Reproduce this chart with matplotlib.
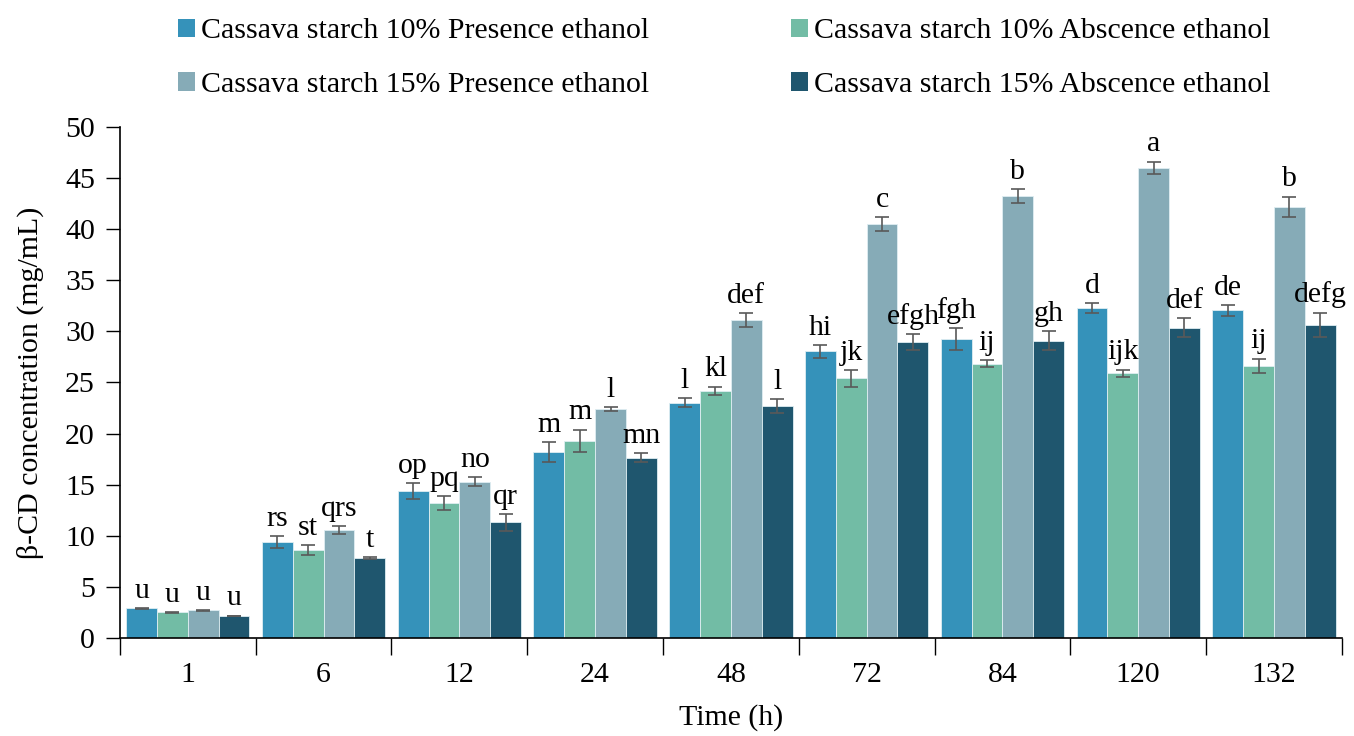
import matplotlib
matplotlib.use("Agg")
import matplotlib.pyplot as plt
import numpy as np
from matplotlib.patches import Patch

plt.rcParams['font.family'] = ['Liberation Serif', 'DejaVu Serif']

times = ["1", "6", "12", "24", "48", "72", "84", "120", "132"]
series_names = ["Cassava starch 10% Presence ethanol",
                "Cassava starch 10% Abscence ethanol",
                "Cassava starch 15% Presence ethanol",
                "Cassava starch 15% Abscence ethanol"]
colors = ["#3592BA", "#72BCA5", "#86ABB7", "#1F566E"]

p10 = [2.9, 9.36, 14.4, 18.2, 23.0, 28.05, 29.26, 32.3, 32.06]
a10 = [2.5, 8.6, 13.2, 19.3, 24.2, 25.4, 26.84, 25.9, 26.65]
p15 = [2.7, 10.57, 15.3, 22.4, 31.1, 40.5, 43.25, 46.0, 42.2]
a15 = [2.15, 7.8, 11.3, 17.65, 22.7, 28.96, 29.1, 30.36, 30.66]

e_p10 = [0.05, 0.57, 0.78, 0.95, 0.44, 0.62, 1.1, 0.46, 0.54]
e_a10 = [0.05, 0.5, 0.7, 1.1, 0.4, 0.85, 0.37, 0.37, 0.68]
e_p15 = [0.05, 0.4, 0.47, 0.18, 0.7, 0.7, 0.7, 0.62, 1.0]
e_a15 = [0.03, 0.1, 0.85, 0.45, 0.67, 0.77, 0.93, 0.93, 1.17]

l_p10 = ["u", "rs", "op", "m", "l", "hi", "fgh", "d", "de"]
l_a10 = ["u", "st", "pq", "m", "kl", "jk", "ij", "ijk", "ij"]
l_p15 = ["u", "qrs", "no", "l", "def", "c", "b", "a", "b"]
l_a15 = ["u", "t", "qr", "mn", "l", "efgh", "gh", "def", "defg"]

values = [p10, a10, p15, a15]
errors = [e_p10, e_a10, e_p15, e_a15]
letters = [l_p10, l_a10, l_p15, l_a15]

FS = 21.5

fig = plt.figure(figsize=(13.54, 7.36), dpi=100)
ax = fig.add_axes([0.0886, 0.1332, 0.9024, 0.6942])

x = np.arange(len(times))
w = 0.227
offsets = (np.arange(4) - 1.5) * w
for i in range(4):
    ax.bar(x + offsets[i], values[i], width=w, color=colors[i],
           edgecolor="#dfeef2", linewidth=0.6, zorder=2)
    ax.errorbar(x + offsets[i], values[i], yerr=errors[i], fmt='none',
                ecolor="#595959", elinewidth=1.2, capsize=5, capthick=1.2, zorder=3)
    for j in range(len(times)):
        ax.text(x[j] + offsets[i], values[i][j] + errors[i][j] + 1.0, letters[i][j],
                ha='center', va='baseline', fontsize=FS, color='black', zorder=4)

ax.set_xlim(-0.5, len(times) - 0.5)
ax.set_ylim(0, 50)
ax.set_yticks(np.arange(0, 51, 5))
ax.tick_params(axis='y', labelsize=FS, direction='out', length=10, width=1, pad=8)
ax.set_xticks(np.arange(len(times) + 1) - 0.5)
ax.set_xticklabels([])
ax.set_xticks(x, minor=True)
ax.set_xticklabels(times, minor=True, fontsize=FS)
ax.tick_params(axis='x', which='major', direction='out', length=12, width=1)
ax.tick_params(axis='x', which='minor', length=0, pad=17)
for s in ['top', 'right']:
    ax.spines[s].set_visible(False)
for s in ['left', 'bottom']:
    ax.spines[s].set_linewidth(1.2)

ax.set_ylabel("β-CD concentration (mg/mL)", fontsize=FS, labelpad=15)
ax.set_xlabel("Time (h)", fontsize=FS, labelpad=12)

handles = [Patch(facecolor=c, edgecolor='none') for c in colors]
order = [0, 2, 1, 3]
fig.legend([handles[k] for k in order], [series_names[k] for k in order],
           ncol=2, loc='upper left', bbox_to_anchor=(0.1315, 0.975),
           frameon=False, fontsize=FS, handlelength=0.57, handleheight=0.57,
           handletextpad=0.2, columnspacing=4.75, labelspacing=0.92,
           borderpad=0, borderaxespad=0)

fig.savefig("out.png", dpi=100)
